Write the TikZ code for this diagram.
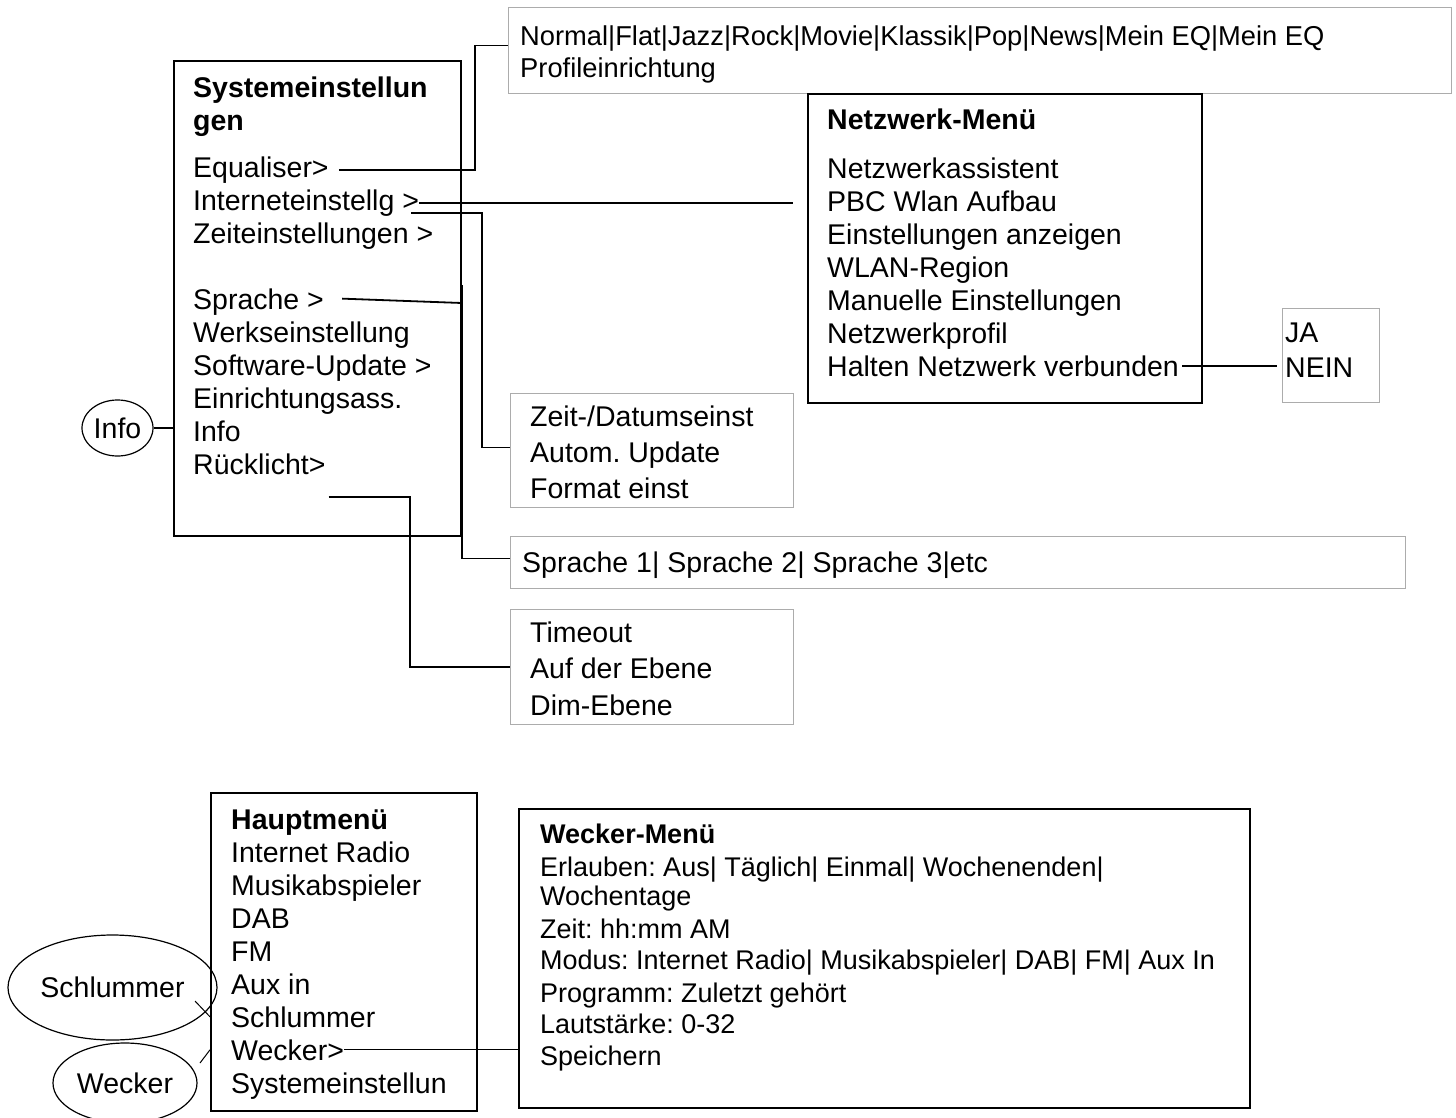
\documentclass[tikz,border=0pt]{standalone}
\usepackage{fontspec}
\setmainfont{Liberation Sans}
\usepackage{tikz}
\usetikzlibrary{shapes.geometric}
\frenchspacing

\begin{document}
\begin{tikzpicture}[x=1pt, y=-1pt,
			menubox/.style={draw=black, line width=1.5pt, anchor=north west, inner sep=0pt},
			subbox/.style={draw=gray!65, line width=0.9pt, anchor=north west, inner sep=0pt},
			item/.style={anchor=base west, inner sep=0pt, font=\fontsize{28.5}{33}\selectfont},
			menutitle/.style={item, font=\fontsize{28.5}{33}\selectfont\bfseries},
			smallitem/.style={item, font=\fontsize{27}{31}\selectfont},
			roundnode/.style={ellipse, draw=black, line width=1.2pt, inner sep=0pt, font=\fontsize{28.5}{33}\selectfont},
			link/.style={line width=1.8pt},
		]
		
			\useasboundingbox (0,0) rectangle (1456,1117);
		
			%Boxes
			\node[menubox, minimum width=287pt, minimum height=475pt]	(sys)		at (173,60)		{};
			\node[subbox, minimum width=943pt, minimum height=86pt]	(eqbox)		at (508,7)		{};
			\node[menubox, minimum width=394pt, minimum height=309pt]	(net)		at (807,93)		{};
			\node[subbox, minimum width=97pt, minimum height=94pt]		(jabox)		at (1282,308)	{};
			\node[subbox, minimum width=283pt, minimum height=114pt]	(zeitbox)	at (510,393)	{};
			\node[subbox, minimum width=895pt, minimum height=52pt]	(sprbox)	at (510,536)	{};
			\node[subbox, minimum width=283pt, minimum height=115pt]	(lichtbox)	at (510,609)	{};
			\node[menubox, minimum width=266pt, minimum height=318pt]	(haupt)		at (210,792)	{};
			\node[menubox, minimum width=731pt, minimum height=299pt]	(weckmenu)	at (518,808)	{};
		
			%Systemeinstellungen
			\node[menutitle]	(systitle)	at (193,97)		{Systemeinstellun};
			\node[menutitle]	(systitleb)	at (193,130)	{gen};
			\node[item]	(eq)		at (193,177)	{Equaliser>};
			\node[item]	(inet)		at (193,210)	{Interneteinstellg >};
			\node[item]	(zeit)		at (193,243)	{Zeiteinstellungen >};
			\node[item]	(sprache)	at (193,309)	{Sprache >};
			\node[item]	(werk)		at (193,342)	{Werkseinstellung};
			\node[item]	(soft)		at (193,375)	{Software-Update >};
			\node[item]	(assist)	at (193,408)	{Einrichtungsass.};
			\node[item]	(info)		at (193,441)	{Info};
			\node[item]	(licht)		at (193,474)	{Rücklicht>};
		
			%Submenus
			\node[item, font=\fontsize{27.3}{32}\selectfont]	(eqlist)	at (520,45)	{Normal|Flat|Jazz|Rock|Movie|Klassik|Pop|News|Mein EQ|Mein EQ};
			\node[item, font=\fontsize{27.3}{32}\selectfont]	(profil)	at (520,77)	{Profileinrichtung};
			\node[menutitle]	(nettitle)	at (827,129)	{Netzwerk-Menü};
			\foreach \t [count=\i] in {Netzwerkassistent, PBC Wlan Aufbau, Einstellungen anzeigen, WLAN-Region, Manuelle Einstellungen, Netzwerkprofil, Halten Netzwerk verbunden}
				\node[item]	(net\i)	at (827,178+33*\i-33)	{\t};
			\node[item]	(ja)	at (1285,342)	{JA};
			\node[item]	(nein)	at (1285,377)	{NEIN};
			\node[item]	(datum)		at (530,426)	{Zeit-/Datumseinst};
			\node[item]	(autom)		at (530,462)	{Autom. Update};
			\node[item]	(format)	at (530,498)	{Format einst};
			\node[item]	(sprlist)	at (522,572)	{Sprache 1| Sprache 2| Sprache 3|etc};
			\node[item]	(timeout)	at (530,642)	{Timeout};
			\node[item]	(ebene)		at (530,678)	{Auf der Ebene};
			\node[item]	(dim)		at (530,715)	{Dim-Ebene};
		
			%Hauptmenue
			\node[menutitle]	(hmtitle)	at (231,829)	{Hauptmenü};
			\foreach \t [count=\i] in {Internet Radio, Musikabspieler, DAB, FM, Aux in, Schlummer, Wecker>, Systemeinstellun}
				\node[item]	(hm\i)	at (231,862+33*\i-33)	{\t};
		
			%Wecker-Menue
			\node[menutitle, font=\fontsize{27}{31}\selectfont\bfseries]	(wmtitle)	at (540,843)	{Wecker-Menü};
			\foreach \y/\t [count=\i] in {876/Erlauben: Aus| Täglich| Einmal| Wochenenden|, 905/Wochentage, 938/Zeit: hh:mm AM, 969/Modus: Internet Radio| Musikabspieler| DAB| FM| Aux In, 1002/Programm: Zuletzt gehört, 1033/Lautstärke: 0-32, 1065/Speichern}
				\node[smallitem]	(wm\i)	at (540,\y)	{\t};
		
			%Buttons
			\node[roundnode, minimum width=71pt, minimum height=56pt]		(infobtn)	at (117.5,428)		{Info};
			\node[roundnode, minimum width=209pt, minimum height=105pt]		(schlbtn)	at (112.5,987.5)	{Schlummer};
			\node[roundnode, minimum width=144pt, minimum height=80pt]		(weckbtn)	at (125,1083)		{Wecker};
			\coordinate	(schltick)	at (195,1001);
			\coordinate	(wecktick)	at (200,1063);
		
			%Lines
			\draw[link]	([xshift=10pt]eq.east) -| ([xshift=-33pt,yshift=5pt]eqbox.west) -- ([yshift=5pt]eqbox.west);
			\draw[link]	(inet.east) -- ([xshift=-14pt]net.west |- inet.east);
			\draw[link]	([xshift=-8pt,yshift=-10pt]inet.east) -| ([xshift=-28pt,yshift=3pt]zeitbox.west) -- ([yshift=3pt]zeitbox.west);
			\draw[link]	([xshift=18pt,yshift=3pt]sprache.east) -- (462,303);
			\draw[link]	(462,285) |- ([yshift=4pt]sprbox.west);
			\draw[link]	([xshift=3pt,yshift=-33pt]licht.east) -| ([xshift=-100pt]lichtbox.west) -- (lichtbox.west);
			\draw[link]	(infobtn.east) -- (sys.west |- infobtn.east);
			\draw[link]	([xshift=3pt]net7.east) -- ([xshift=-5pt]jabox.west |- net7.east);
			\draw[line width=1.2pt]	(hm7.east) -- (weckmenu.west |- hm7.east);
			\draw[line width=1pt]	(schltick) -- (haupt.west |- hm6.west);
			\draw[line width=1pt]	(wecktick) -- (haupt.west |- hm7.west);
		
		\end{tikzpicture}
\end{document}
